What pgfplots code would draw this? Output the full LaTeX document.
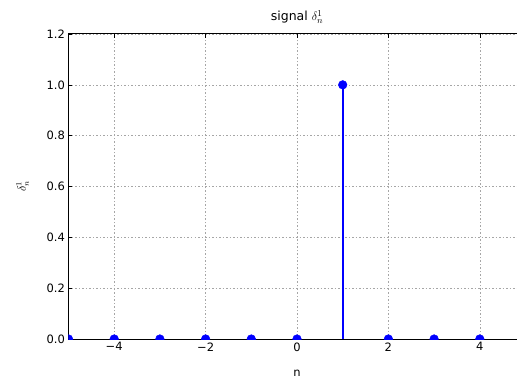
\documentclass[border=0pt]{standalone}
\usepackage{pgfplots}
\pgfplotsset{compat=1.18}
\usepackage{fontspec}
\setmainfont{DejaVu Sans}
\begin{document}
\begin{tikzpicture}[font=\fontsize{11.5}{14}\selectfont]
\begin{axis}[
  scale only axis, width=457pt, height=305pt,
  xmin=-5, xmax=5, ymin=0, ymax=1.2,
  xtick={-4,-2,0,2,4},
  xticklabels={−4,−2,0,2,4},
  ytick={0,0.2,0.4,0.6,0.8,1.0,1.2},
  yticklabels={0.0,0.2,0.4,0.6,0.8,1.0,1.2},
  tick label style={font=\fontsize{11.5}{14}\selectfont},
  label style={font=\fontsize{11.5}{14}\selectfont},
  title style={font=\fontsize{12.5}{15}\selectfont, yshift=1pt},
  tick align=inside,
  major tick length=4pt,
  tick style={black, line width=0.6pt},
  axis line style={line width=1pt},
  grid=major,
  major grid style={gray!70, dash pattern=on 1.5pt off 2pt, line width=0.5pt},
  title={signal $\delta_n^1$},
  xlabel={n},
  ylabel={$\delta_n^1$},
  ylabel style={yshift=11pt},
  xlabel style={yshift=-12pt},
  clip marker paths=true,
]
\addplot[ycomb, color=blue, line width=2.2pt, mark=*, mark size=4.3pt,
  mark options={line width=0.5pt, fill=blue}]
  coordinates {(-5,0)(-4,0)(-3,0)(-2,0)(-1,0)(0,0)(1,1)(2,0)(3,0)(4,0)};
\coordinate (sw) at (rel axis cs:0,0);
\coordinate (nw) at (rel axis cs:0,1);
\end{axis}
\pgfresetboundingbox
\path[use as bounding box] ([shift={(-68.5pt,-39pt)}]sw) rectangle ([shift={(448.5pt,34pt)}]nw);
\end{tikzpicture}
\end{document}
